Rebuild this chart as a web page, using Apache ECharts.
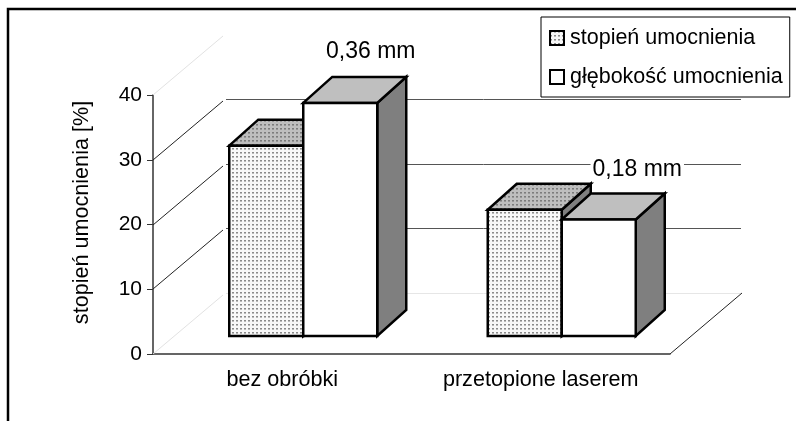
<!DOCTYPE html>
<html>
<head>
<meta charset="utf-8">
<style>html,body{margin:0;padding:0;background:#fff}#chart{width:796px;height:421px}</style>
<script src="https://cdn.jsdelivr.net/npm/echarts@6/dist/echarts.min.js"></script>
</head>
<body>
<div id="chart"></div>
<script>
const categories = ['bez obróbki', 'przetopione laserem'];
const hardeningDegree = [29.4, 19.5];
const hardeningDepth = [36, 18];
const depthLabels = ['0,36 mm', '0,18 mm'];
const yTicks = [0, 10, 20, 30, 40];
const seriesNames = ['stopień umocnienia', 'głębokość umocnienia'];

const FONT = '"Liberation Sans", Arial, sans-serif';
// 3d look of the excel chart, in pixels
const WALL_DX = 72, WALL_DY = 61;
const BAR_W = 74, BAR_DX = 29, BAR_DY = 26, BASE_DX = 21, BASE_DY = 18;
const LABEL_SHIFT = [[16, -25], [24, -24]];

const makeDots = (bg, dark, mid) => {
  const c = document.createElement('canvas');
  c.width = c.height = 4;
  const ctx = c.getContext('2d');
  ctx.fillStyle = bg;
  ctx.fillRect(0, 0, 4, 4);
  ctx.fillStyle = dark;
  ctx.fillRect(0, 0, 2, 1);
  ctx.fillStyle = mid;
  ctx.fillRect(0, 1, 2, 1);
  return { image: c, repeat: 'repeat' };
};
const dotFront = makeDots('#f8f8f8', '#8a8a8a', '#bcbcbc');
const dotTop = makeDots('#bebebe', '#7c7c7c', '#989898');

const poly = (points, fill, width) => ({
  type: 'polygon',
  shape: { points },
  style: { fill, stroke: '#000', lineWidth: width, lineJoin: 'miter' }
});
const seg = (x1, y1, x2, y2, stroke, width) => ({
  type: 'line',
  shape: { x1, y1, x2, y2 },
  style: { stroke, lineWidth: width, fill: null }
});

const renderWall = (params, api) => {
  const v = api.value(1);
  const y = Math.round(api.coord([0, v])[1]);
  const grid = params.coordSys;
  const left = grid.x, right = grid.x + grid.width;
  const faint = v === 0 || v === 40;
  const children = [
    seg(left, y, left + WALL_DX - 2, y - WALL_DY + 2, faint ? '#e2e2e2' : '#222', 1),
  ];
  if (v !== 40) {
    children.push(seg(left + WALL_DX + 1, y - WALL_DY + 0.5, right + WALL_DX - 1, y - WALL_DY + 0.5, faint ? '#e6e6e6' : '#555', 1));
  }
  if (v === 0) {
    children.push(seg(right, y, right + WALL_DX, y - WALL_DY, '#222', 1));
  }
  return { type: 'group', children };
};

const renderBar = (slot, front, top, side) => (params, api) => {
  const idx = api.value(0);
  const x = api.coord([idx, 0])[0] + BASE_DX + slot * BAR_W;
  const y0 = api.coord([idx, 0])[1] - BASE_DY;
  const y1 = api.coord([idx, api.value(1)])[1] - BASE_DY;
  const x2 = x + BAR_W;
  return {
    type: 'group',
    children: [
      poly([[x2, y1], [x2 + BAR_DX, y1 - BAR_DY], [x2 + BAR_DX, y0 - BAR_DY], [x2, y0]], side, 2.5),
      poly([[x, y1], [x + BAR_DX, y1 - BAR_DY], [x2 + BAR_DX, y1 - BAR_DY], [x2, y1]], top, 2.5),
      poly([[x, y1], [x2, y1], [x2, y0], [x, y0]], front, 2.5)
    ]
  };
};

const renderLabel = (params, api) => {
  const idx = api.value(0);
  const p = api.coord([idx, api.value(1)]);
  const shift = LABEL_SHIFT[idx];
  return {
    type: 'text',
    x: p[0] + BASE_DX + BAR_W / 2 + BAR_DX / 2 + shift[0],
    y: p[1] - BASE_DY - BAR_DY + shift[1],
    style: {
      text: depthLabels[idx],
      align: 'center',
      verticalAlign: 'middle',
      font: '23px ' + FONT,
      fill: '#000',
      backgroundColor: '#fff',
      padding: [0, 2]
    }
  };
};

const chart = echarts.init(document.getElementById('chart'), null, { renderer: 'canvas' });
chart.setOption({
  animation: false,
  backgroundColor: '#fff',
  tooltip: { show: false },
  grid: { left: 153, top: 95, width: 517, height: 259 },
  legend: {
    data: seriesNames,
    icon: 'rect',
    orient: 'vertical',
    left: 541,
    top: 17,
    padding: [10, 7, 9, 8],
    itemWidth: 14,
    itemHeight: 14,
    itemGap: 17,
    backgroundColor: '#fff',
    borderColor: '#000',
    borderWidth: 1,
    textStyle: { fontFamily: FONT, fontSize: 21.5, color: '#000', padding: [0, 0, 0, 1] }
  },
  xAxis: {
    type: 'category',
    data: categories,
    axisLine: { lineStyle: { color: '#333', width: 1.5 } },
    axisTick: { length: 6, alignWithLabel: false, lineStyle: { color: '#333' } },
    axisLabel: { fontFamily: FONT, fontSize: 21.6, color: '#000', margin: 15 }
  },
  yAxis: {
    type: 'value',
    min: 0,
    max: 40,
    interval: 10,
    name: 'stopień umocnienia [%]',
    nameLocation: 'middle',
    nameRotate: 90,
    nameGap: 60,
    nameTextStyle: { fontFamily: FONT, fontSize: 21.6, color: '#000', padding: [0, 0, 0, 24] },
    splitLine: { show: false },
    axisLine: { show: true, lineStyle: { color: '#333', width: 1.5 } },
    axisTick: { show: true, length: 6, lineStyle: { color: '#333' } },
    axisLabel: { fontFamily: FONT, fontSize: 21, color: '#000', margin: 11 }
  },
  graphic: [
    { type: 'rect', silent: true, shape: { x: 8, y: 9, width: 800, height: 430 }, style: { fill: null, stroke: '#000', lineWidth: 2.5 } }
  ],
  series: [
    {
      type: 'custom', name: 'walls', silent: true, z: 1,
      renderItem: renderWall,
      data: yTicks.map(v => [0, v]),
      encode: { x: 0, y: 1 }
    },
    {
      type: 'custom', name: seriesNames[0], z: 2,
      renderItem: renderBar(-1, dotFront, dotTop, '#7f7f7f'),
      itemStyle: { color: dotFront, borderColor: '#000', borderWidth: 2 },
      data: hardeningDegree.map((v, i) => [i, v]),
      encode: { x: 0, y: 1 }
    },
    {
      type: 'custom', name: seriesNames[1], z: 3,
      renderItem: renderBar(0, '#fff', '#bfbfbf', '#7f7f7f'),
      itemStyle: { color: '#fff', borderColor: '#000', borderWidth: 2 },
      data: hardeningDepth.map((v, i) => [i, v]),
      encode: { x: 0, y: 1 }
    },
    {
      type: 'custom', name: 'labels', silent: true, z: 4,
      renderItem: renderLabel,
      data: hardeningDepth.map((v, i) => [i, v]),
      encode: { x: 0, y: 1 }
    }
  ]
});
</script>
</body>
</html>
